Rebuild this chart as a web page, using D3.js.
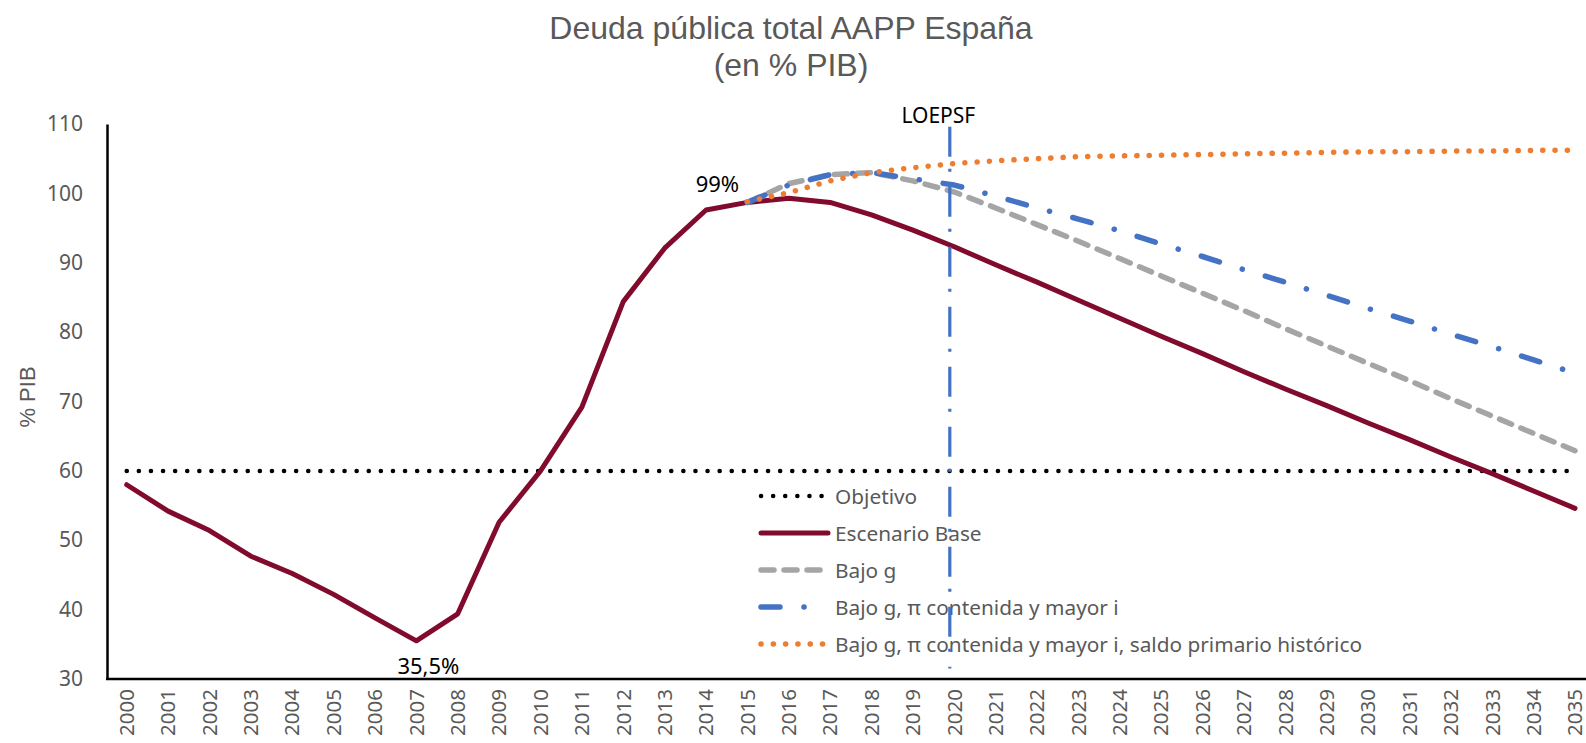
<!DOCTYPE html>
<html>
<head>
<meta charset="utf-8">
<script src="https://cdn.jsdelivr.net/npm/d3@7"></script>
<style>
  body { margin: 0; background: #fff; }
  text { font-family: "Noto Sans", sans-serif; }
</style>
</head>
<body>
<div id="chart"></div>
<script>
// years on the category axis
const years = [2000, 2001, 2002, 2003, 2004, 2005, 2006, 2007, 2008, 2009,
               2010, 2011, 2012, 2013, 2014, 2015, 2016, 2017, 2018, 2019,
               2020, 2021, 2022, 2023, 2024, 2025, 2026, 2027, 2028, 2029,
               2030, 2031, 2032, 2033, 2034, 2035];
const projYears = [2015, 2016, 2017, 2018, 2019, 2020, 2021, 2022, 2023, 2024, 2025,
                   2026, 2027, 2028, 2029, 2030, 2031, 2032, 2033, 2034, 2035];

const objetivo = [60, 60, 60, 60, 60, 60, 60, 60, 60, 60, 60, 60, 60, 60, 60, 60, 60, 60,
                  60, 60, 60, 60, 60, 60, 60, 60, 60, 60, 60, 60, 60, 60, 60, 60, 60, 60];
const escenarioBase = [58.0, 54.2, 51.4, 47.7, 45.2, 42.2, 38.8, 35.5, 39.4, 52.6,
                       60.0, 69.2, 84.4, 92.1, 97.6, 98.7, 99.3, 98.7, 96.9, 94.7,
                       92.3, 89.7, 87.2, 84.6, 82.0, 79.4, 76.9, 74.3, 71.8, 69.4,
                       66.9, 64.5, 62.0, 59.6, 57.1, 54.6];
const bajoG = [98.7, 101.4, 102.7, 103.0, 101.8, 100.2, 97.9, 95.5, 93.1, 90.6, 88.1,
               85.6, 83.1, 80.5, 78.0, 75.5, 73.0, 70.4, 67.9, 65.4, 62.9];
const bajoGPi = [98.7, 101.2, 102.7, 103.0, 102.1, 101.2, 99.6, 97.9, 96.3, 94.6, 92.7,
                 90.9, 89.0, 87.2, 85.3, 83.4, 81.6, 79.7, 77.9, 76.0, 74.1];
const bajoGPiSaldo = [98.8, 100.1, 101.8, 103.0, 103.7, 104.3, 104.7, 105.0, 105.3, 105.4, 105.5,
                      105.6, 105.7, 105.8, 105.9, 106.0, 106.0, 106.1, 106.1, 106.2, 106.2];

const yTicks = [30, 40, 50, 60, 70, 80, 90, 100, 110];
const seriesNames = ["Objetivo", "Escenario Base", "Bajo g",
                     "Bajo g, π contenida y mayor i",
                     "Bajo g, π contenida y mayor i, saldo primario histórico"];
const loepsfYear = 2020;
const loepsfSpan = [31.5, 109.6];

const width = 1586, height = 743;
const svg = d3.select("#chart").append("svg")
    .attr("width", width)
    .attr("height", height);

const x = d3.scalePoint().domain(years).range([126.7, 1575]);
const y = d3.scaleLinear().domain([30, 110]).range([679, 124]);

// title
svg.append("text")
    .attr("x", 791).attr("y", 39)
    .attr("text-anchor", "middle")
    .style("font-family", "'Liberation Sans', Arial, sans-serif")
    .style("font-size", "32px")
    .attr("fill", "#595959")
    .text("Deuda pública total AAPP España");
svg.append("text")
    .attr("x", 791).attr("y", 76)
    .attr("text-anchor", "middle")
    .style("font-family", "'Liberation Sans', Arial, sans-serif")
    .style("font-size", "32px")
    .attr("fill", "#595959")
    .text("(en % PIB)");

// y axis
const yAxis = svg.append("g")
    .attr("transform", "translate(107,0)")
    .call(d3.axisLeft(y).tickValues(yTicks).tickSize(0).tickPadding(24));
yAxis.select(".domain").attr("stroke", "#000").attr("stroke-width", 2.5);
yAxis.selectAll("text")
    .style("font-family", "'Noto Sans', sans-serif")
    .style("font-size", "21px")
    .attr("fill", "#595959");

svg.append("text")
    .attr("transform", "translate(27,397) rotate(-90)")
    .attr("text-anchor", "middle")
    .attr("dominant-baseline", "central")
    .style("font-family", "'Liberation Sans', Arial, sans-serif")
    .style("font-size", "22px")
    .attr("fill", "#595959")
    .text("% PIB");

// x axis
const xAxis = svg.append("g")
    .attr("transform", "translate(0,679)")
    .call(d3.axisBottom(x).tickSize(0));
xAxis.select(".domain").remove();
xAxis.selectAll("text")
    .attr("transform", "rotate(-90)")
    .attr("x", -10)
    .attr("y", 0)
    .attr("dy", "0.33em")
    .style("text-anchor", "end")
    .style("font-family", "'Noto Sans', sans-serif")
    .style("font-size", "20.5px")
    .attr("fill", "#595959");
svg.append("line")
    .attr("x1", 106).attr("x2", width)
    .attr("y1", y(30)).attr("y2", y(30))
    .attr("stroke", "#000").attr("stroke-width", 2.5);

// series
const styles = [
    { color: "#000000", w: 4.5, dash: "0.1,12" },
    { color: "#800b2d", w: 5, dash: null },
    { color: "#a5a5a5", w: 5.5, dash: "13,10" },
    { color: "#4472c4", w: 5.5, dash: "19,24,0.1,24" },
    { color: "#ed7d31", w: 5.5, dash: "0.1,12.2" }
];
const seriesData = [
    years.map((yr, i) => [yr, objetivo[i]]),
    years.map((yr, i) => [yr, escenarioBase[i]]),
    projYears.map((yr, i) => [yr, bajoG[i]]),
    projYears.map((yr, i) => [yr, bajoGPi[i]]),
    projYears.map((yr, i) => [yr, bajoGPiSaldo[i]])
];

const line = d3.line()
    .x(d => x(d[0]))
    .y(d => y(d[1]));

seriesData.forEach((s, i) => {
    svg.append("path")
        .datum(s)
        .attr("d", line)
        .attr("fill", "none")
        .attr("stroke", styles[i].color)
        .attr("stroke-width", styles[i].w)
        .attr("stroke-linecap", "round")
        .attr("stroke-linejoin", "round")
        .attr("stroke-dasharray", styles[i].dash);
});

// labels on the base line
svg.append("text")
    .attr("x", x(2015) - 30).attr("y", y(98.7) - 19)
    .attr("text-anchor", "middle")
    .attr("dominant-baseline", "central")
    .style("font-size", "22px")
    .attr("fill", "#000")
    .text("99%");
svg.append("text")
    .attr("x", x(2007) + 12).attr("y", y(35.5) + 24)
    .attr("text-anchor", "middle")
    .attr("dominant-baseline", "central")
    .style("font-size", "22px")
    .attr("fill", "#000")
    .text("35,5%");

// legend
const legendY = [496, 533, 570, 607, 644];
const legend = svg.append("g");
seriesNames.forEach((name, i) => {
    const g = legend.append("g").attr("transform", `translate(0,${legendY[i]})`);
    g.append("line")
        .attr("x1", 761).attr("x2", 828)
        .attr("y1", 0).attr("y2", 0)
        .attr("stroke", styles[i].color)
        .attr("stroke-width", styles[i].w)
        .attr("stroke-linecap", "round")
        .attr("stroke-dasharray", styles[i].dash);
    g.append("text")
        .attr("x", 835)
        .attr("y", 0)
        .attr("dominant-baseline", "central")
        .style("font-size", "20.8px")
        .attr("fill", "#595959")
        .text(name);
});

// LOEPSF marker
svg.append("line")
    .attr("x1", x(loepsfYear) - 4.5).attr("x2", x(loepsfYear) - 4.5)
    .attr("y1", y(loepsfSpan[1])).attr("y2", y(loepsfSpan[0]))
    .attr("stroke", "#4472c4")
    .attr("stroke-width", 3.2)
    .attr("stroke-dasharray", "30,12,3,15");
svg.append("text")
    .attr("x", x(loepsfYear) - 16).attr("y", y(loepsfSpan[1]) - 12)
    .attr("text-anchor", "middle")
    .attr("dominant-baseline", "central")
    .style("font-size", "21px")
    .attr("fill", "#000")
    .text("LOEPSF");
</script>
</body>
</html>
